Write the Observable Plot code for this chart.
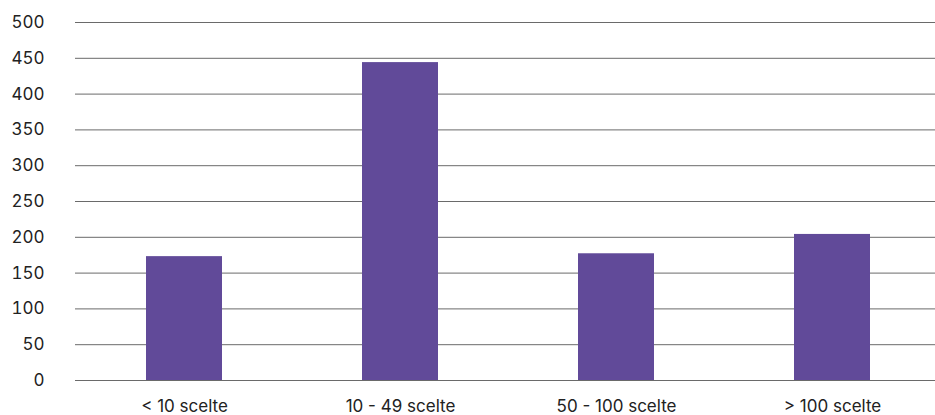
<!DOCTYPE html>
<html>
<head>
<meta charset="utf-8">
<script src="https://cdn.jsdelivr.net/npm/d3@7"></script>
<script src="https://cdn.jsdelivr.net/npm/@observablehq/plot@0.6"></script>
<style>
  html, body { margin: 0; padding: 0; background: #fff; overflow: hidden; }
  #chart { width: 941px; }
  #chart svg { display: block; max-width: none !important; }
</style>
</head>
<body>
<div id="chart"></div>
<script>
const categories = ["< 10 scelte", "10 - 49 scelte", "50 - 100 scelte", "> 100 scelte"];
const values = [173, 444, 177, 204];
const yTicks = [0, 50, 100, 150, 200, 250, 300, 350, 400, 450, 500];

const data = categories.map((c, i) => ({category: c, value: values[i]}));

const chart = Plot.plot({
  width: 941,
  height: 415,
  marginLeft: 75,
  marginRight: 0,
  marginTop: 22,
  marginBottom: 35,
  style: {fontFamily: "Inter, 'Noto Sans', sans-serif", fontSize: "17px", color: "#222", background: "#fff"},
  x: {domain: categories, paddingInner: 0.65, paddingOuter: 0.325, label: null},
  y: {domain: [0, 500], label: null},
  marks: [
    Plot.ruleY(yTicks, {stroke: "#6a6a6a", strokeWidth: 1}),
    Plot.barY(data, {x: "category", y: "value", fill: "#614a99"}),
    Plot.axisX({tickSize: 0, tickPadding: 19, label: null, fontSize: 17}),
    Plot.axisY({ticks: yTicks, tickSize: 0, tickPadding: 31, label: null, fontSize: 17})
  ]
});
document.getElementById("chart").appendChild(chart);
</script>
</body>
</html>
